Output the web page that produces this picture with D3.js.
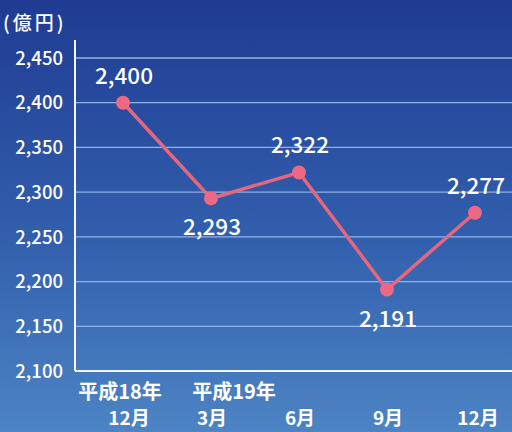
<!DOCTYPE html>
<html><head><meta charset="utf-8">
<script src="https://cdn.jsdelivr.net/npm/d3@7"></script>
<style>
html,body{margin:0;padding:0;background:#2a4c9c;}
svg{display:block;}
text{font-family:"Noto Sans CJK JP","Noto Sans",sans-serif;fill:#fff;}
</style></head>
<body>
<script>
const categories = ["H18-12", "H19-3", "H19-6", "H19-9", "H19-12"];
const values = [2400, 2293, 2322, 2191, 2277];
const monthLabels = ["12月", "3月", "6月", "9月", "12月"];
const yearLabels = ["平成18年", "平成19年", "", "", ""];
const labelAbove = [true, false, true, false, true];
const yTicks = [2100, 2150, 2200, 2250, 2300, 2350, 2400, 2450];
const unitLabel = "(億円)";

const W = 512, H = 432;
const svg = d3.select("body").append("svg").attr("width", W).attr("height", H);

const defs = svg.append("defs");
const grad = defs.append("linearGradient").attr("id","bg").attr("x1",0).attr("y1",0).attr("x2",0).attr("y2",1);
grad.append("stop").attr("offset","0%").attr("stop-color","#1f3b93");
grad.append("stop").attr("offset","55%").attr("stop-color","#325fad");
grad.append("stop").attr("offset","100%").attr("stop-color","#4d84c4");
svg.append("rect").attr("width",W).attr("height",H).attr("fill","url(#bg)");

const x0 = 75, xEnd = 512, yBottom = 371, yTop = 40;
const x = d3.scalePoint().domain(categories).range([123, 475]);
const y = d3.scaleLinear().domain([2100, 2450]).range([yBottom, 58]);

// gridlines
svg.append("g").selectAll("line").data(yTicks.slice(1)).join("line")
  .attr("x1", x0).attr("x2", xEnd)
  .attr("y1", d => y(d)).attr("y2", d => y(d))
  .attr("stroke", "#8fb2ea").attr("stroke-width", 1.3);

// axes lines
svg.append("line").attr("x1", x0).attr("x2", x0).attr("y1", yTop).attr("y2", yBottom)
  .attr("stroke", "#f4f6fb").attr("stroke-width", 2);
svg.append("line").attr("x1", x0).attr("x2", xEnd).attr("y1", yBottom).attr("y2", yBottom)
  .attr("stroke", "#f4f6fb").attr("stroke-width", 2);

// y tick labels
const fmt = d3.format(",");
svg.append("g").selectAll("text").data(yTicks).join("text")
  .attr("x", 63).attr("y", d => y(d)).attr("dy", "0.36em")
  .attr("text-anchor", "end").attr("font-size", 18.5).attr("font-weight", 500)
  .text(d => fmt(d));

svg.append("text").attr("x", 3).attr("y", 30).attr("font-size", 19).attr("font-weight", 500)
  .attr("letter-spacing", 3).text(unitLabel);

// x labels
svg.append("g").selectAll("text").data(categories).join("text")
  .attr("x", (d,i) => x(d) + (i === 0 ? 6 : i === 4 ? 3 : 1)).attr("y", 425)
  .attr("text-anchor", "middle").attr("font-size", 19).attr("font-weight", 700)
  .text((d,i) => monthLabels[i]);
svg.append("g").selectAll("text").data(categories.filter((d,i)=>yearLabels[i])).join("text")
  .attr("x", (d,i) => x(d) + (i === 0 ? -3 : 23)).attr("y", 399)
  .attr("text-anchor", "middle").attr("font-size", 20).attr("font-weight", 700)
  .text((d,i) => yearLabels[i]);

// line
const line = d3.line().x((d,i) => x(categories[i])).y(d => y(d));
svg.append("path").datum(values).attr("d", line)
  .attr("fill", "none").attr("stroke", "#e46780").attr("stroke-width", 3.5);

svg.append("g").selectAll("circle").data(values).join("circle")
  .attr("cx", (d,i) => x(categories[i])).attr("cy", d => y(d)).attr("r", 7)
  .attr("fill", "#ec6883");

// data labels
svg.append("g").selectAll("text").data(values).join("text")
  .attr("x", (d,i) => x(categories[i]) + 1)
  .attr("y", (d,i) => y(d) + (labelAbove[i] ? -19 : 37))
  .attr("text-anchor", "middle").attr("font-size", 22.5).attr("font-weight", 500)
  .text(d => fmt(d));
</script>
</body></html>
